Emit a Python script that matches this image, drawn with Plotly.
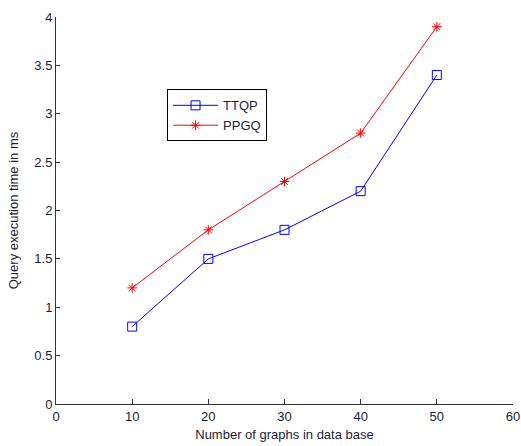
import plotly.graph_objects as go

x_vals = [10, 20, 30, 40, 50]
ttqp = [0.8, 1.5, 1.8, 2.2, 3.4]
ppgq = [1.2, 1.8, 2.3, 2.8, 3.9]
x_ticks = [0, 10, 20, 30, 40, 50, 60]
y_ticks = [0, 0.5, 1, 1.5, 2, 2.5, 3, 3.5, 4]
y_tick_text = ["0", "0.5", "1", "1.5", "2", "2.5", "3", "3.5", "4"]

fig = go.Figure()
fig.add_trace(go.Scatter(
    x=x_vals, y=ttqp, name="TTQP", mode="lines+markers",
    line=dict(color="#0000ff", width=1),
    marker=dict(symbol="square-open", size=9, color="#0000ff", line=dict(width=1)),
))
fig.add_trace(go.Scatter(
    x=x_vals, y=ppgq, name="PPGQ", mode="lines+markers",
    line=dict(color="#ff0000", width=1),
    marker=dict(symbol="asterisk-open", size=8, color="#ff0000", line=dict(width=1, color="#ff0000")),
))

font_col = "#1c1c3c"
fig.update_layout(
    width=521, height=446,
    paper_bgcolor="white", plot_bgcolor="white",
    margin=dict(l=56, r=8, t=17, b=42, autoexpand=False),
    font=dict(family="Arial, Liberation Sans, sans-serif", size=13, color=font_col),
    showlegend=True,
    legend=dict(
        x=0.243, y=0.813, xanchor="left", yanchor="top",
        bordercolor="#000000", borderwidth=1, bgcolor="white",
        font=dict(size=13, color=font_col),
        tracegroupgap=0, itemwidth=45,
    ),
    xaxis=dict(
        range=[0, 60], tickvals=x_ticks, ticks="inside", ticklen=5,
        tickcolor="#333333", showline=True, linecolor="#333333", linewidth=1,
        showgrid=False, zeroline=False, mirror=False, automargin=False,
        ticklabeloverflow="allow",
        title=dict(text="Number of graphs in data base", standoff=7, font=dict(size=13)),
        tickfont=dict(size=13),
    ),
    yaxis=dict(
        range=[0, 4], tickvals=y_ticks, ticktext=y_tick_text, ticks="inside", ticklen=4,
        tickcolor="#333333", showline=True, linecolor="#333333", linewidth=1,
        showgrid=False, zeroline=False, mirror=False, automargin=False,
        ticklabeloverflow="allow",
        title=dict(text="Query execution time in ms", standoff=12, font=dict(size=13)),
        tickfont=dict(size=13),
    ),
)
fig.write_html(
    "out.html",
    config={"displayModeBar": False},
    post_script="document.body.style.margin='0';document.body.style.overflow='hidden';",
)
